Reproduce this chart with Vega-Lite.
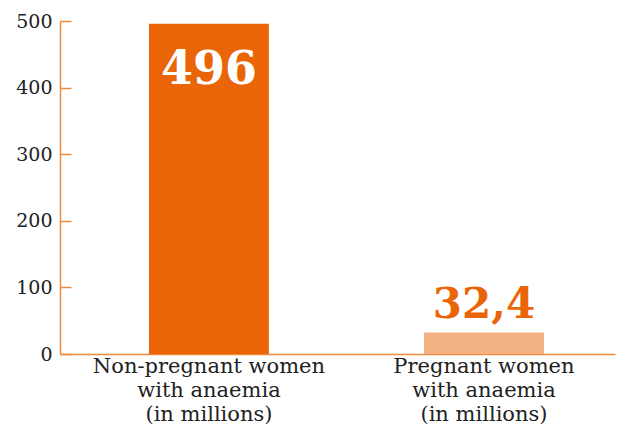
{
  "$schema": "https://vega.github.io/schema/vega-lite/v6.json",
  "width": 555,
  "height": 333,
  "autosize": {"type": "none"},
  "padding": {"left": 60, "top": 21, "right": 2, "bottom": 74},
  "background": "white",
  "config": {"view": {"stroke": null}},
  "data": {
    "values": [
      {"group": "Non-pregnant women\nwith anaemia\n(in millions)", "value": 496, "label": "496", "kind": "a"},
      {"group": "Pregnant women\nwith anaemia\n(in millions)", "value": 32.4, "label": "32,4", "kind": "b"}
    ]
  },
  "encoding": {
    "x": {
      "field": "group", "type": "nominal", "sort": null,
      "scale": {"paddingInner": 0.564, "paddingOuter": 0.291, "align": 0.556},
      "axis": {
        "title": null, "labelAngle": 0, "labelExpr": "split(datum.value, '\\n')",
        "labelFont": "DejaVu Serif", "labelFontSize": 21, "labelColor": "#222222",
        "labelLineHeight": 24, "labelPadding": 1, "ticks": false, "labelLimit": 0,
        "domainColor": "#F08A3C", "domainWidth": 1.5, "labelBaseline": "top"
      }
    },
    "y": {
      "field": "value", "type": "quantitative",
      "scale": {"domain": [0, 500], "nice": false},
      "axis": {
        "title": null, "values": [0, 100, 200, 300, 400, 500], "grid": false,
        "tickSize": -11, "tickColor": "#F08A3C", "tickWidth": 1.5,
        "domainColor": "#F08A3C", "domainWidth": 1.5,
        "labelFont": "DejaVu Serif", "labelFontSize": 19, "labelColor": "#222222",
        "labelPadding": 19
      }
    }
  },
  "layer": [
    {
      "mark": {"type": "bar"},
      "encoding": {
        "color": {"field": "kind", "type": "nominal", "legend": null,
          "scale": {"domain": ["a", "b"], "range": ["#EA6508", "#F4B183"]}}
      }
    },
    {
      "transform": [{"filter": "datum.kind == 'a'"}],
      "mark": {"type": "text", "font": "DejaVu Serif", "fontWeight": "bold", "fontSize": 46, "baseline": "alphabetic", "dy": 60, "color": "white"},
      "encoding": {"text": {"field": "label"}}
    },
    {
      "transform": [{"filter": "datum.kind == 'b'"}],
      "mark": {"type": "text", "font": "DejaVu Serif", "fontWeight": "bold", "fontSize": 42, "baseline": "alphabetic", "dy": -14, "color": "#EA6508"},
      "encoding": {"text": {"field": "label"}}
    }
  ]
}
